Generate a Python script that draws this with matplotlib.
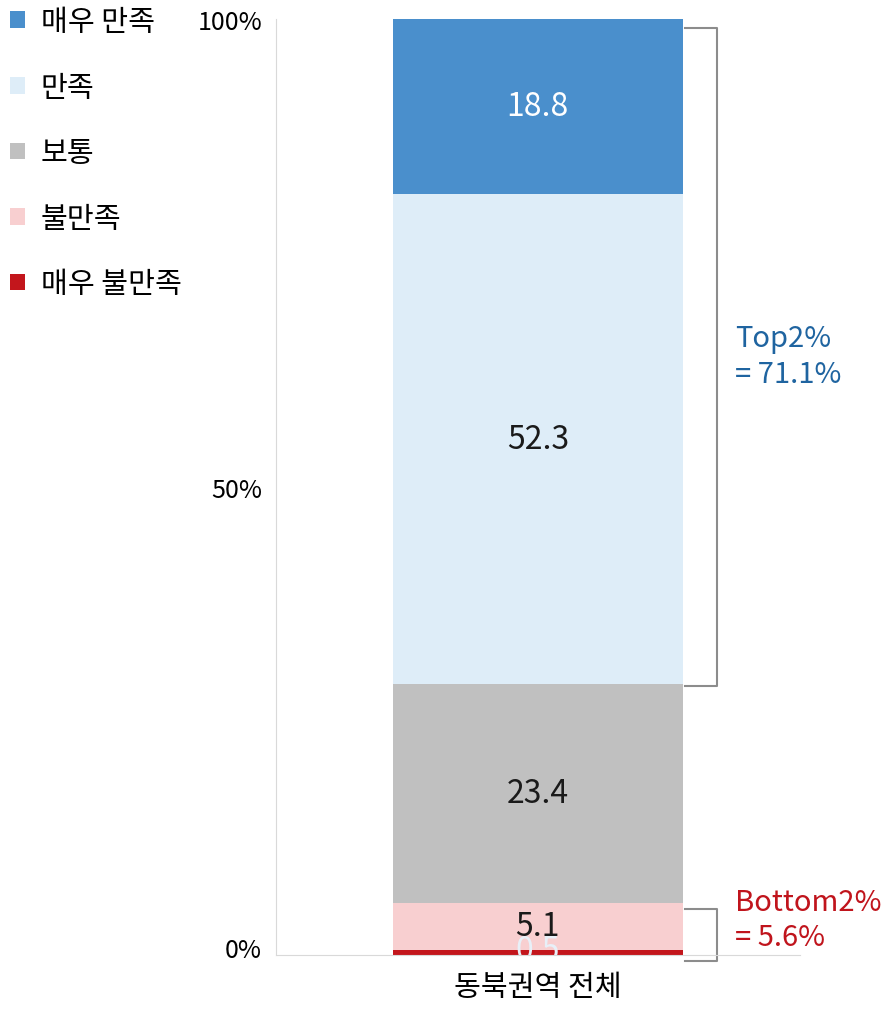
import matplotlib.pyplot as plt
import matplotlib.transforms as mtransforms
from matplotlib.patches import Patch

plt.rcParams['font.family'] = ['Noto Sans CJK KR', 'DejaVu Sans']

# data
category = '동북권역 전체'
labels = ['매우 불만족', '불만족', '보통', '만족', '매우 만족']
values = [0.5, 5.1, 23.4, 52.3, 18.8]
colors = ['#c3161c', '#f8cfd0', '#c0c0c0', '#deedf8', '#4a8fcc']
text_colors = ['#e8f0f8', '#1a1a1a', '#1a1a1a', '#1a1a1a', '#ffffff']
top2 = 71.1
bottom2 = 5.6
yticks = [0, 50, 100]
ytick_labels = ['0%', '50%', '100%']

fig = plt.figure(figsize=(8.89, 10.12), dpi=100)
ax = fig.add_axes([0.3105, 0.0553, 0.589, 0.925])

bar_x = 0.5
bar_w = 0.553
bottom = 0
for v, c, tc in zip(values, colors, text_colors):
    ax.bar(bar_x, v, width=bar_w, bottom=bottom, color=c, edgecolor='none')
    # the thin bottom segment's label sits on the axis line and gets cut off
    ypos = bottom + v / 2 if v > 2 else bottom + v
    ax.text(bar_x, ypos, f'{v:.1f}', ha='center', va='center',
            fontsize=23, color=tc, clip_on=True)
    bottom += v
total = bottom

ax.set_xlim(0, 1)
ax.set_ylim(0, 100)
ax.set_yticks(yticks)
ax.set_yticklabels(ytick_labels, fontsize=18)
ax.set_xticks([bar_x])
ax.set_xticklabels([category], fontsize=21)
ax.tick_params(axis='x', length=0, pad=12)
ax.tick_params(axis='y', length=0, pad=10)
# nudge the 0% label up a little like the original
lab0 = ax.get_yticklabels()[0]
lab0.set_transform(lab0.get_transform() +
                   mtransforms.ScaledTranslation(0, 6 / 72, fig.dpi_scale_trans))
for s in ['top', 'right']:
    ax.spines[s].set_visible(False)
ax.spines['left'].set_color('#d9d9d9')
ax.spines['left'].set_linestyle((0, (1, 1)))
ax.spines['bottom'].set_color('#d9d9d9')

# brackets
x0 = bar_x + bar_w / 2 + 0.004
x1 = 0.843
def bracket(y_lo, y_hi):
    ax.plot([x0, x1, x1, x0], [y_hi, y_hi, y_lo, y_lo], color='#8c8c8c',
            lw=1.5, clip_on=False, solid_joinstyle='round')

bracket(total - top2 - 0.3, total - 1.1)
bracket(-0.6, bottom2 - 0.7)

ax.text(0.876, 64.0, f'Top2%\n= {top2:.1f}%', color='#1f64a0', fontsize=21,
        ha='left', va='center', linespacing=1.25)
ax.text(0.876, 3.8, f'Bottom2%\n= {bottom2:.1f}%', color='#c0141c', fontsize=21,
        ha='left', va='center', linespacing=1.25, clip_on=False)

# legend
handles = [Patch(facecolor=c, edgecolor='none') for c in colors[::-1]]
fig.legend(handles, labels[::-1], loc='upper left',
           bbox_to_anchor=(10 / 889, 1 - 8 / 1012),
           frameon=False, fontsize=21, handlelength=0.5, handleheight=0.5,
           handletextpad=0.55, labelspacing=1.22, borderpad=0, borderaxespad=0)

fig.savefig('out.png', dpi=100)
